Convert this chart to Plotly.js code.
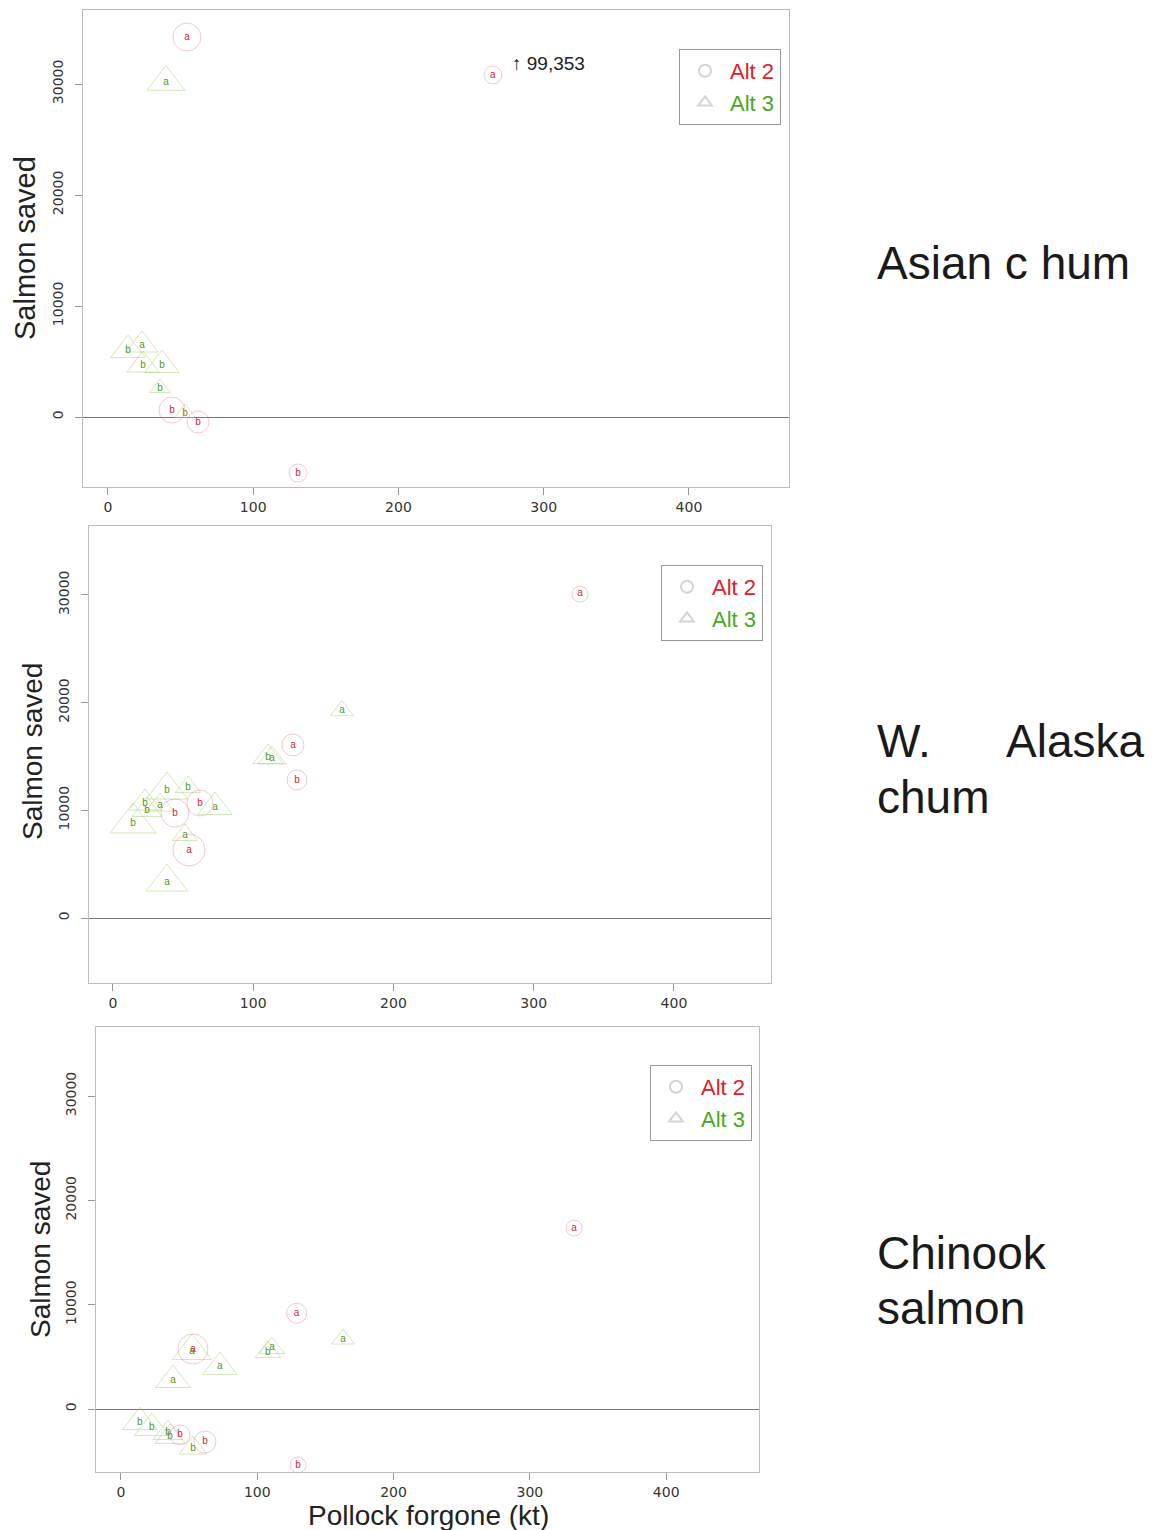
<!DOCTYPE html>
<html><head><meta charset="utf-8">
<script src="https://cdn.plot.ly/plotly-3.0.1.min.js"></script>
<style>html,body{margin:0;padding:0;background:#fff}#chart{width:1157px;height:1530px}</style>
</head><body><div id="chart"></div>
<script>
// ---------- data ----------
const xTicks = [0, 100, 200, 300, 400];
const yTicks = [0, 10000, 20000, 30000];
const yTickText = ['0', '10000', '20000', '30000'];
const seriesNames = ['Alt 2', 'Alt 3'];

// Panel 1: Asian chum
const asianAlt2X = [54.4, 265, 44.1, 62, 130.8];
const asianAlt2Y = [34234, 30810, 630, -450, -5045];
const asianAlt2Lab = ['a', 'a', 'b', 'b', 'b'];
const asianAlt2W = [1.4, 0.9, 1.3, 1.1, 0.9];
const asianAlt3X = [39.9, 13.8, 23.4, 24.1, 37.2, 35.8, 53.0];
const asianAlt3Y = [30180, 6036, 6486, 4685, 4685, 2613, 360];
const asianAlt3Lab = ['a', 'b', 'a', 'b', 'b', 'b', 'b'];
const asianAlt3W = [1.65, 1.5, 1.4, 1.4, 1.5, 0.9, 0.9];
const asianOffScaleValue = '99,353';   // true value of the Alt 2 "a" point drawn at the top

// Panel 2: W. Alaska chum
const wakAlt2X = [333, 128.3, 131.2, 62, 44.2, 54.2];
const wakAlt2Y = [30084, 16063, 12813, 10678, 9749, 6314];
const wakAlt2Lab = ['a', 'a', 'b', 'b', 'b', 'a'];
const wakAlt2W = [0.8, 1.1, 1.0, 1.3, 1.4, 1.6];
const wakAlt3X = [163.3, 110.5, 113.4, 14.3, 22.8, 24.2, 33.5, 38.5, 53.5, 72.7, 51.3, 38.5];
const wakAlt3Y = [19248, 14949, 14856, 8821, 10678, 10028, 10492, 11885, 12163, 10306, 7707, 3343];
const wakAlt3Lab = ['a', 'b', 'a', 'b', 'b', 'b', 'a', 'b', 'b', 'a', 'a', 'a'];
const wakAlt3W = [1.0, 1.3, 1.2, 2.0, 1.4, 1.3, 1.2, 1.8, 1.1, 1.5, 1.1, 1.8];

// Panel 3: Chinook salmon
const chinAlt2X = [332.4, 128.9, 52.8, 43.3, 61.6, 129.9];
const chinAlt2Y = [17350, 9175, 5750, -2490, -3160, -5370];
const chinAlt2Lab = ['a', 'a', 'a', 'b', 'b', 'b'];
const chinAlt2W = [0.8, 1.0, 1.5, 1.0, 1.1, 0.8];
const chinAlt3X = [162.9, 107.8, 110.8, 52.1, 72.6, 38.2, 13.9, 22.7, 34.5, 36.0, 52.8];
const chinAlt3Y = [6710, 5465, 5850, 5560, 4030, 2780, -1250, -1820, -2300, -2680, -3740];
const chinAlt3Lab = ['a', 'b', 'a', 'a', 'a', 'a', 'b', 'b', 'b', 'b', 'b'];
const chinAlt3W = [1.0, 1.1, 1.1, 1.7, 1.5, 1.5, 1.5, 1.5, 1.3, 1.3, 1.2];

// ---------- styling ----------
const W = 1157, H = 1530;
const px = v => v / W;
const py = v => 1 - v / H;
const SIZE_UNIT = 20;
const RED_TXT = '#d8243a', GRN_TXT = '#4e9a22';
const RED_LINE = 'rgba(232,110,140,0.55)', GRN_LINE = 'rgba(150,205,95,0.6)';
const FONT = 'Liberation Sans, Arial, sans-serif';

const panels = [
  {ax: '', a2: [asianAlt2X, asianAlt2Y, asianAlt2Lab, asianAlt2W], a3: [asianAlt3X, asianAlt3Y, asianAlt3Lab, asianAlt3W],
   box: [83, 789, 10, 487], xr: [-17.2, 468.9], yr: [-6306, 36667], leg: [781, 49], ytitle: [25, 248], ts: 29},
  {ax: '2', a2: [wakAlt2X, wakAlt2Y, wakAlt2Lab, wakAlt2W], a3: [wakAlt3X, wakAlt3Y, wakAlt3Lab, wakAlt3W],
   box: [89, 771, 526, 983], xr: [-17.1, 469.2], yr: [-6035, 36397], leg: [763, 565], ytitle: [32, 752], ts: 28},
  {ax: '3', a2: [chinAlt2X, chinAlt2Y, chinAlt2Lab, chinAlt2W], a3: [chinAlt3X, chinAlt3Y, chinAlt3Lab, chinAlt3W],
   box: [96, 759, 1027, 1472], xr: [-18.3, 468.1], yr: [-6040, 36625], leg: [752, 1065], ytitle: [40, 1250], ts: 28}
];

const traces = [];
const layout = {
  width: W, height: H, autosize: false,
  margin: {l: 0, r: 0, t: 0, b: 0},
  paper_bgcolor: '#fff', plot_bgcolor: '#fff',
  font: {family: FONT, color: '#222'},
  showlegend: true,
  annotations: []
};

panels.forEach((p, i) => {
  const xa = 'x' + p.ax, ya = 'y' + p.ax;
  const legId = 'legend' + p.ax;
  const mk = (d, sym, lineC, txtC, nm) => ({
    type: 'scatter', mode: 'markers+text', x: d[0], y: d[1], text: d[2],
    xaxis: xa, yaxis: ya, showlegend: false, name: nm, cliponaxis: false,
    textposition: 'middle center',
    textfont: {family: FONT, size: 10, color: txtC},
    marker: {symbol: sym, size: d[3].map(w => w * SIZE_UNIT), color: 'rgba(0,0,0,0)',
             line: {color: lineC, width: 1}},
    hoverinfo: 'x+y'
  });
  traces.push(mk(p.a3, 'triangle-up', GRN_LINE, GRN_TXT, seriesNames[1]));
  traces.push(mk(p.a2, 'circle', RED_LINE, RED_TXT, seriesNames[0]));
  // legend entries
  traces.push({type: 'scatter', mode: 'markers', x: [null], y: [null], xaxis: xa, yaxis: ya,
    legend: legId, name: '<span style="color:#e0202a">' + seriesNames[0] + '</span>',
    marker: {symbol: 'circle', size: 7, color: 'rgba(0,0,0,0)', line: {color: '#d4d4d4', width: 1}}});
  traces.push({type: 'scatter', mode: 'markers', x: [null], y: [null], xaxis: xa, yaxis: ya,
    legend: legId, name: '<span style="color:#48a81c">' + seriesNames[1] + '</span>',
    marker: {symbol: 'triangle-up', size: 8, color: 'rgba(0,0,0,0)', line: {color: '#d4d4d4', width: 1}}});

  const xKey = 'xaxis' + p.ax, yKey = 'yaxis' + p.ax;
  layout[xKey] = {
    domain: [px(p.box[0]), px(p.box[1])], anchor: ya, range: p.xr,
    tickvals: xTicks, ticktext: xTicks.map(String),
    showgrid: false, zeroline: false, showline: true, mirror: true,
    linecolor: '#bdbdbd', linewidth: 1, ticks: 'outside', ticklen: 7, tickcolor: '#999',
    tickfont: {family: 'DejaVu Sans, sans-serif', size: 14, color: '#333'},
    fixedrange: true
  };
  layout[yKey] = {
    domain: [py(p.box[3]), py(p.box[2])], anchor: xa, range: p.yr,
    tickvals: yTicks, ticktext: yTickText, tickangle: -90,
    showgrid: false, zeroline: true, zerolinecolor: '#777', zerolinewidth: 1,
    showline: true, mirror: true, linecolor: '#bdbdbd', linewidth: 1,
    ticks: 'outside', ticklen: 7, tickcolor: '#999', ticklabelstandoff: 6,
    tickfont: {family: 'DejaVu Sans, sans-serif', size: 14, color: '#333'},
    fixedrange: true
  };
  layout[legId] = {
    x: px(p.leg[0]), y: py(p.leg[1]), xanchor: 'right', yanchor: 'top',
    xref: 'paper', yref: 'paper',
    bgcolor: '#fff', bordercolor: '#9a9a9a', borderwidth: 1,
    font: {family: FONT, size: 22}, itemsizing: 'constant', itemwidth: 40, tracegroupgap: 0
  };
  layout.annotations.push({
    xref: 'paper', yref: 'paper', x: px(p.ytitle[0]), y: py(p.ytitle[1]),
    text: 'Salmon saved', textangle: -90, showarrow: false,
    font: {family: FONT, size: p.ts, color: '#222'}, xanchor: 'center', yanchor: 'middle'
  });
});

// off-scale value note
layout.annotations.push({
  xref: 'x', yref: 'y', x: asianAlt2X[1], y: asianAlt2Y[1], xanchor: 'left', yanchor: 'middle',
  xshift: 17, yshift: 12, showarrow: false, text: '\u2191 ' + asianOffScaleValue,
  font: {family: FONT, size: 19, color: '#222'}
});

// x-axis title
layout.annotations.push({
  xref: 'paper', yref: 'paper', x: px(428), y: py(1515), xanchor: 'center', yanchor: 'middle',
  text: 'Pollock forgone (kt)', showarrow: false, font: {family: FONT, size: 28, color: '#222'}
});

// panel labels on the right
const sideLabels = [
  ['Asian c hum', 875, 263, 'left'],
  ['W.', 875, 741, 'left'], ['Alaska', 1146, 741, 'right'], ['chum', 875, 797, 'left'],
  ['Chinook', 875, 1253, 'left'], ['salmon', 875, 1308, 'left']
];
sideLabels.forEach(s => layout.annotations.push({
  xref: 'paper', yref: 'paper', x: px(s[1]), y: py(s[2]), xanchor: s[3], yanchor: 'middle',
  text: s[0], showarrow: false, font: {family: FONT, size: 46, color: '#1a1a1a'}
}));

Plotly.newPlot('chart', traces, layout, {displayModeBar: false, staticPlot: true});
</script>
</body></html>
